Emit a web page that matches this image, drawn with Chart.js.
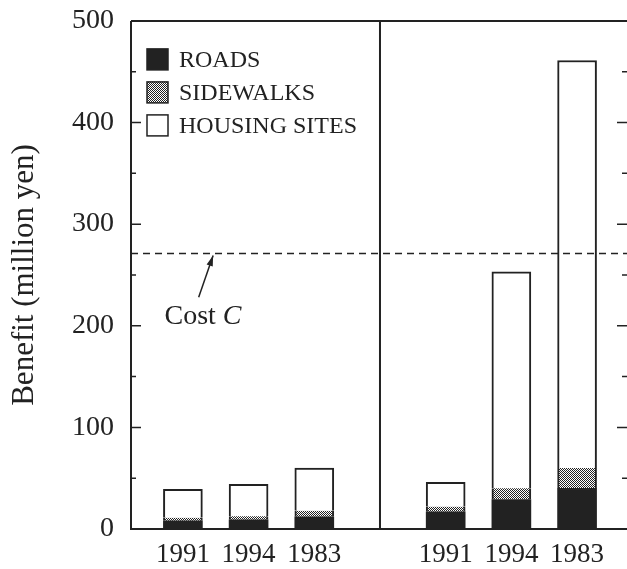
<!DOCTYPE html>
<html>
<head>
<meta charset="utf-8">
<script src="https://cdn.jsdelivr.net/npm/chart.js@4.4.0/dist/chart.umd.min.js"></script>
<style>
  html, body { margin: 0; padding: 0; background: #fff; }
  #wrap { width: 627px; height: 569px; }
</style>
</head>
<body>
<div id="wrap"><canvas id="benefitChart"></canvas></div>
<script>
        // Slot positions on the x axis (slot 4 is the gap between the two panels)
        const slots = [1, 2, 3, 5, 6, 7];
        const yearLabels = ['1991', '1994', '1983', '1991', '1994', '1983'];

        // Benefit components (million yen)
        const roads = [8, 9, 12, 17, 29, 40];
        const sidewalks = [3, 3.5, 6, 5, 11, 20];
        const housingSites = [28, 31.5, 42, 24, 213, 401];

        const costC = 271;
        const yTicks = [0, 100, 200, 300, 400, 500];

        const ink = '#222';
        const serif = "'Liberation Serif', 'DejaVu Serif', serif";

        // Fine stipple used for the sidewalks segment
        function stipple() {
            const c = document.createElement('canvas');
            c.width = 2; c.height = 2;
            const g = c.getContext('2d');
            g.fillStyle = '#fff';
            g.fillRect(0, 0, 2, 2);
            g.fillStyle = ink;
            g.fillRect(0, 0, 1, 1);
            g.fillRect(1, 1, 1, 1);
            return g.createPattern(c, 'repeat');
        }
        const dots = stipple();

        const pts = arr => arr.map((v, i) => ({ x: slots[i], y: v }));

        // Frame, inward ticks, divider, cost line, legend and annotation
        const decor = {
            id: 'decor',
            afterDatasetsDraw(chart) {
                const { ctx, chartArea: a, scales: { x, y } } = chart;
                ctx.save();
                ctx.strokeStyle = ink;
                ctx.lineWidth = 2;
                ctx.beginPath();
                ctx.moveTo(a.left, a.top); ctx.lineTo(a.left, a.bottom); ctx.lineTo(a.right, a.bottom);
                ctx.moveTo(a.left, a.top); ctx.lineTo(a.right, a.top);
                const xd = x.getPixelForValue(4);
                ctx.moveTo(xd, a.top); ctx.lineTo(xd, a.bottom);
                ctx.stroke();

                // inward ticks on both sides
                ctx.lineWidth = 1.5;
                ctx.beginPath();
                for (let v = 0; v <= 500; v += 50) {
                    const py = y.getPixelForValue(v);
                    const len = v % 100 === 0 ? 10 : 5;
                    ctx.moveTo(a.left, py); ctx.lineTo(a.left + len, py);
                    ctx.moveTo(a.right, py); ctx.lineTo(a.right - len, py);
                }
                ctx.stroke();

                // cost line
                const yc = y.getPixelForValue(costC);
                ctx.setLineDash([7, 5]);
                ctx.lineWidth = 1.5;
                ctx.beginPath();
                ctx.moveTo(a.left, yc); ctx.lineTo(a.right, yc);
                ctx.stroke();
                ctx.setLineDash([]);

                // arrow and label
                const tipX = x.getPixelForValue(1.46), tipY = yc + 2;
                const tailX = x.getPixelForValue(1.24), tailY = y.getPixelForValue(228);
                ctx.beginPath();
                ctx.moveTo(tailX, tailY); ctx.lineTo(tipX, tipY);
                ctx.stroke();
                const ang = Math.atan2(tipY - tailY, tipX - tailX);
                ctx.fillStyle = ink;
                ctx.beginPath();
                ctx.moveTo(tipX, tipY);
                ctx.lineTo(tipX - 11 * Math.cos(ang - 0.3), tipY - 11 * Math.sin(ang - 0.3));
                ctx.lineTo(tipX - 11 * Math.cos(ang + 0.3), tipY - 11 * Math.sin(ang + 0.3));
                ctx.closePath();
                ctx.fill();

                ctx.textBaseline = 'alphabetic';
                ctx.textAlign = 'left';
                ctx.font = `28px ${serif}`;
                const lx = x.getPixelForValue(0.72), ly = y.getPixelForValue(202);
                ctx.fillText('Cost ', lx, ly);
                const w = ctx.measureText('Cost ').width;
                ctx.font = `italic 28px ${serif}`;
                ctx.fillText('C', lx + w, ly);

                // legend
                const items = chart.data.datasets;
                ctx.font = `24px ${serif}`;
                ctx.textBaseline = 'middle';
                items.forEach((ds, i) => {
                    const bx = a.left + 16, by = a.top + 28 + i * 33, s = 21;
                    ctx.fillStyle = ds.backgroundColor;
                    ctx.fillRect(bx, by, s, s);
                    ctx.lineWidth = 1.5;
                    ctx.strokeStyle = ink;
                    ctx.strokeRect(bx, by, s, s);
                    ctx.fillStyle = ink;
                    ctx.fillText(ds.label, bx + s + 11, by + s / 2 + 1);
                });
                ctx.restore();
            }
        };

        new Chart(document.getElementById('benefitChart'), {
            type: 'bar',
            data: {
                datasets: [
                    {
                        label: 'ROADS',
                        data: pts(roads),
                        backgroundColor: ink,
                        borderColor: ink,
                        borderWidth: 0,
                    },
                    {
                        label: 'SIDEWALKS',
                        data: pts(sidewalks),
                        backgroundColor: dots,
                        borderColor: ink,
                        borderWidth: { left: 2, right: 2, top: 0, bottom: 0 },
                    },
                    {
                        label: 'HOUSING SITES',
                        data: pts(housingSites),
                        backgroundColor: '#fff',
                        borderColor: ink,
                        borderWidth: { left: 2, right: 2, top: 2, bottom: 0 },
                    }
                ]
            },
            options: {
                responsive: true,
                maintainAspectRatio: false,
                animation: false,
                layout: { padding: { top: 0, right: 0, left: 0, bottom: 0 } },
                datasets: { bar: { barThickness: 39 } },
                plugins: {
                    legend: { display: false },
                    tooltip: { enabled: false }
                },
                scales: {
                    x: {
                        type: 'linear',
                        stacked: true,
                        offset: false,
                        min: 0.21,
                        max: 7.76,
                        grid: { display: false },
                        border: { display: false },
                        afterBuildTicks: s => { s.ticks = slots.map(v => ({ value: v })); },
                        afterFit: s => { s.height = 40; },
                        ticks: {
                            autoSkip: false,
                            maxRotation: 0,
                            padding: 2,
                            color: ink,
                            font: { family: serif, size: 27 },
                            callback: v => yearLabels[slots.indexOf(v)] ?? ''
                        }
                    },
                    y: {
                        stacked: true,
                        min: 0,
                        max: 500,
                        grid: { display: false },
                        border: { display: false },
                        afterBuildTicks: s => { s.ticks = yTicks.map(v => ({ value: v })); },
                        afterFit: s => { s.width = 131; },
                        title: {
                            display: true,
                            text: 'Benefit (million yen)',
                            color: ink,
                            font: { family: serif, size: 31 },
                            padding: { top: 6, bottom: 0 }
                        },
                        ticks: {
                            padding: 9,
                            color: ink,
                            font: { family: serif, size: 28, lineHeight: 0.85 }
                        }
                    }
                }
            },
            plugins: [decor]
        });
</script>
</body>
</html>
